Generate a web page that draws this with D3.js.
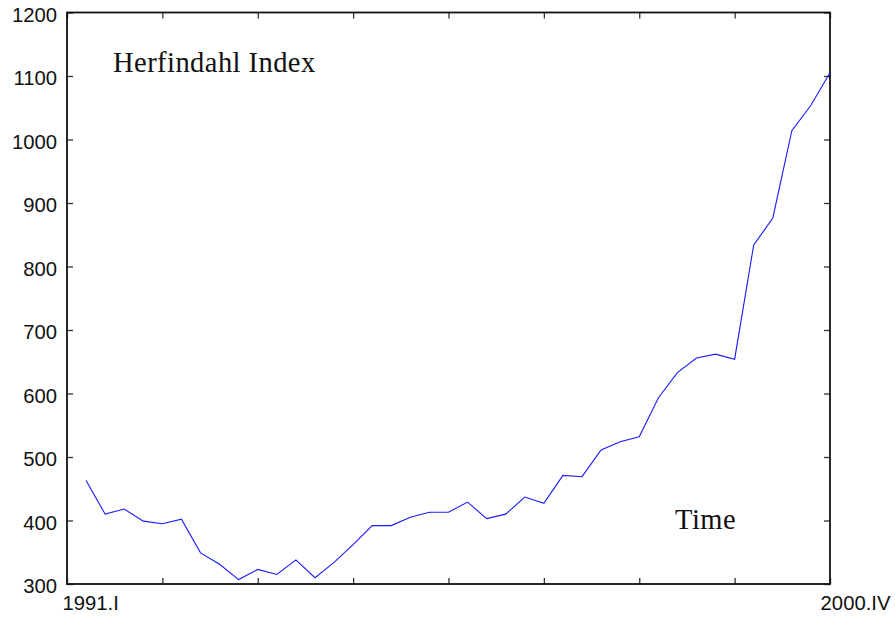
<!DOCTYPE html>
<html>
<head>
<meta charset="utf-8">
<script src="https://cdn.jsdelivr.net/npm/d3@7"></script>
<style>
  html, body { margin: 0; padding: 0; background: #fff; }
  svg { display: block; }
</style>
</head>
<body>
<svg id="chart" width="895" height="617"></svg>
<script>
// Quarterly Herfindahl index, 1991.I – 2000.IV (quarter index 0..39)
const quarters = d3.range(40);
const herfindahl = [
  463, 410, 418, 399, 395, 402, 349, 331, 307, 323,
  315, 338, 310, 334, 362, 392, 392, 405, 413, 413,
  429, 403, 410, 437, 427, 471, 469, 511, 524, 532,
  593, 633, 656, 662, 654, 834, 876, 1014, 1054, 1105
];
const yTicks = [300, 400, 500, 600, 700, 800, 900, 1000, 1100, 1200];
const xTickValues = [-1, 4, 9, 14, 19, 24, 29, 34, 39];
const xTickLabels = ["1991.I", "", "", "", "", "", "", "", "2000.IV"];

const svg = d3.select("#chart");
const plotLeft = 67, plotRight = 830, plotTop = 12.5, plotBottom = 584;

const x = d3.scaleLinear().domain([-1, 39]).range([plotLeft, plotRight]);
const y = d3.scaleLinear().domain([300, 1200]).range([plotBottom, plotTop]);

const tickLen = 6;
const sans = "'Liberation Sans', Arial, sans-serif";
const serif = "'Liberation Serif', 'Times New Roman', serif";

// Left axis with labels
const gLeft = svg.append("g").attr("transform", `translate(${plotLeft},0)`)
  .call(d3.axisLeft(y).tickValues(yTicks).tickSize(-tickLen).tickPadding(10).tickFormat(d3.format("d")));
gLeft.selectAll("text").attr("font-family", sans).attr("font-size", 20.3).attr("fill", "#111").attr("dy", "0.42em");

// Right axis (ticks only)
svg.append("g").attr("transform", `translate(${plotRight},0)`)
  .call(d3.axisRight(y).tickValues(yTicks).tickSize(-tickLen).tickFormat(""));

// Top axis (ticks only)
svg.append("g").attr("transform", `translate(0,${plotTop})`)
  .call(d3.axisTop(x).tickValues(xTickValues).tickSize(-tickLen).tickFormat(""));

// Bottom axis with end labels
const gBottom = svg.append("g").attr("transform", `translate(0,${plotBottom})`)
  .call(d3.axisBottom(x).tickValues(xTickValues).tickSize(-tickLen).tickPadding(12)
    .tickFormat((d, i) => xTickLabels[i]));
gBottom.selectAll("text")
  .attr("font-family", sans).attr("font-size", 20.3).attr("fill", "#111")
  .attr("text-anchor", (d, i) => i === 0 ? "start" : (i === xTickValues.length - 1 ? "end" : "middle"))
  .attr("dx", (d, i) => i === 0 ? -5 : (i === xTickValues.length - 1 ? 60 : 0));

svg.selectAll(".domain").remove();
svg.selectAll(".tick line").attr("stroke", "#333").attr("stroke-width", 1.3);

// Frame
svg.append("rect")
  .attr("x", plotLeft).attr("y", plotTop)
  .attr("width", plotRight - plotLeft).attr("height", plotBottom - plotTop)
  .attr("fill", "none").attr("stroke", "#111").attr("stroke-width", 1.8);

// Series line
const line = d3.line().x((d, i) => x(quarters[i])).y(d => y(d));
svg.append("path")
  .datum(herfindahl)
  .attr("d", line)
  .attr("fill", "none")
  .attr("stroke", "#1a1aff")
  .attr("stroke-width", 1.1);

// In-plot captions
svg.append("text")
  .attr("x", 113).attr("y", 71.7)
  .attr("font-family", serif).attr("font-size", 28.5)
  .attr("letter-spacing", 0.45)
  .attr("fill", "#111")
  .text("Herfindahl Index");

svg.append("text")
  .attr("x", 675).attr("y", 529)
  .attr("font-family", serif).attr("font-size", 28.5)
  .attr("letter-spacing", 0.5)
  .attr("fill", "#111")
  .text("Time");
</script>
</body>
</html>
